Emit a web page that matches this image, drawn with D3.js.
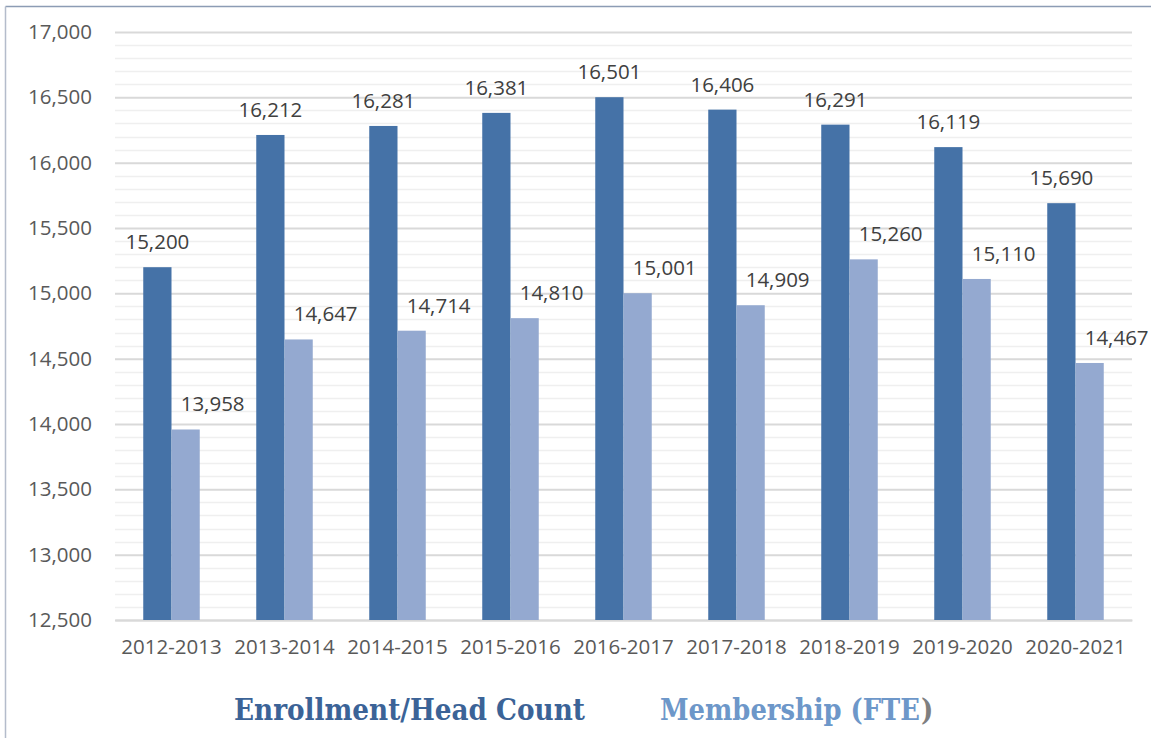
<!DOCTYPE html>
<html>
<head>
<meta charset="utf-8">
<script src="https://cdnjs.cloudflare.com/ajax/libs/d3/7.8.5/d3.min.js"></script>
<style>
  body { margin: 0; background: #fff; }
  svg { display: block; }
</style>
</head>
<body>
<div id="chart"></div>
<script>
// data
var years = ["2012-2013", "2013-2014", "2014-2015", "2015-2016", "2016-2017",
             "2017-2018", "2018-2019", "2019-2020", "2020-2021"];
var headCount = [15200, 16212, 16281, 16381, 16501, 16406, 16291, 16119, 15690];
var fte = [13958, 14647, 14714, 14810, 15001, 14909, 15260, 15110, 14467];
var seriesNames = ["Enrollment/Head Count", "Membership (FTE)"];
var yTicks = [12500, 13000, 13500, 14000, 14500, 15000, 15500, 16000, 16500, 17000];

var svgWidth = 1151, svgHeight = 738;
var margin = { top: 32, right: 19, bottom: 118, left: 115 };
var width = svgWidth - margin.left - margin.right;
var height = svgHeight - margin.top - margin.bottom;

var darkBlue = "#4572a7", lightBlue = "#94a9d0";
var font = "'Open Sans', sans-serif";

var svg = d3.select("#chart").append("svg")
  .attr("width", svgWidth)
  .attr("height", svgHeight);

// frame (only top and left edges show)
svg.append("line").attr("x1", 5.5).attr("x2", svgWidth).attr("y1", 6.5).attr("y2", 6.5)
  .attr("stroke", "#8c9cb4").attr("stroke-width", 1.5);
svg.append("line").attr("x1", 5.5).attr("x2", 5.5).attr("y1", 6.5).attr("y2", svgHeight)
  .attr("stroke", "#b4bccb").attr("stroke-width", 1.5);

var g = svg.append("g").attr("transform", `translate(${margin.left}, ${margin.top})`);

var y = d3.scaleLinear().domain([12500, 17000]).range([height, 0]);
var x0 = d3.scaleBand().domain(years).range([0, width]).paddingInner(0.5).paddingOuter(0.25);
var x1 = d3.scaleBand().domain([0, 1]).range([0, x0.bandwidth()]);

// minor gridlines every 100
g.append("g").selectAll("line")
  .data(d3.range(12600, 17000, 100).filter(v => v % 500 !== 0))
  .enter().append("line")
  .attr("x1", 0).attr("x2", width)
  .attr("y1", d => Math.round(y(d)) + 0.5).attr("y2", d => Math.round(y(d)) + 0.5)
  .attr("stroke", "#efefef").attr("stroke-width", 1.5);

// major gridlines + left labels
var leftAxis = d3.axisLeft(y).tickValues(yTicks).tickSize(-width).tickPadding(23)
  .tickFormat(d3.format(","));
var ya = g.append("g").call(leftAxis);
ya.select(".domain").remove();
ya.selectAll(".tick line").attr("stroke", "#d9d9d9").attr("stroke-width", 2);
ya.selectAll(".tick text").attr("fill", "#595959").style("font-family", font).style("font-size", "20.5px");

var bottomAxis = d3.axisBottom(x0).tickSize(0).tickPadding(19);
var xa = g.append("g").attr("transform", `translate(0, ${height})`).call(bottomAxis);
xa.select(".domain").attr("stroke", "#d9d9d9").attr("stroke-width", 2);
xa.selectAll(".tick text").attr("fill", "#595959").style("font-family", font).style("font-size", "20.5px");

var series = [headCount, fte];
var colors = [darkBlue, lightBlue];
var labelShift = [0, 27];

series.forEach(function (vals, si) {
  g.append("g").selectAll("rect")
    .data(vals).enter().append("rect")
    .attr("x", (d, i) => x0(years[i]) + x1(si))
    .attr("width", x1.bandwidth())
    .attr("y", d => y(d))
    .attr("height", d => height - y(d))
    .attr("fill", colors[si]);

  g.append("g").selectAll("text")
    .data(vals).enter().append("text")
    .attr("x", (d, i) => x0(years[i]) + x1(si) + x1.bandwidth() / 2 + labelShift[si])
    .attr("y", d => y(d) - 18)
    .attr("text-anchor", "middle")
    .attr("fill", "#404040")
    .style("font-family", font).style("font-size", "20.5px")
    .text(d => d3.format(",")(d));
});

// legend (text only, like the source)
var legendFont = "'DejaVu Serif Condensed', 'DejaVu Serif', serif";
svg.append("text")
  .attr("x", 234).attr("y", 720)
  .attr("fill", "#3b6397")
  .style("font-family", legendFont).style("font-weight", "bold").style("font-size", "29px")
  .attr("textLength", 351).attr("lengthAdjust", "spacingAndGlyphs")
  .text(seriesNames[0]);
svg.append("text")
  .attr("x", 660).attr("y", 720)
  .attr("fill", "#6d97c9")
  .style("font-family", legendFont).style("font-weight", "bold").style("font-size", "29px")
  .attr("textLength", 260).attr("lengthAdjust", "spacingAndGlyphs")
  .text(seriesNames[1].slice(0, -1));
svg.append("text")
  .attr("x", 921).attr("y", 720)
  .attr("fill", "#7f7f7f")
  .style("font-family", legendFont).style("font-weight", "bold").style("font-size", "29px")
  .text(seriesNames[1].slice(-1));
</script>
</body>
</html>
